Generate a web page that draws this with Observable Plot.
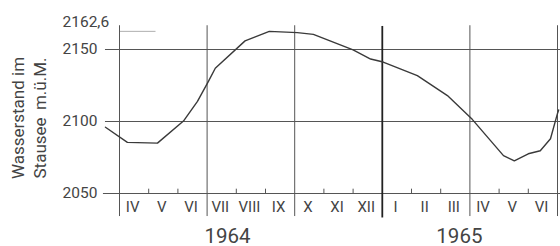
<!DOCTYPE html>
<html>
<head>
<meta charset="utf-8">
<script src="https://cdn.jsdelivr.net/npm/d3@7"></script>
<script src="https://cdn.jsdelivr.net/npm/@observablehq/plot@0.6"></script>
<style>
  html, body { margin: 0; padding: 0; background: #fff; }
</style>
</head>
<body>
<div id="chart"></div>
<script>
// Month index: 0 = start of April 1964, 9 = start of January 1965
const curveMonth = [-0.48, 0.27, 1.3, 2.19, 2.67, 3.05, 3.28, 4.3, 5.13, 6.09, 6.64, 8.0, 8.6, 9.03, 10.2, 11.23, 12.08, 13.15, 13.52, 14.0, 14.41, 14.76, 15.0, 15.04];
const curveLevel = [2096, 2085.5, 2085, 2100.3, 2114, 2128, 2137, 2156, 2162.6, 2161.7, 2160.5, 2149.7, 2143.4, 2141.3, 2131.8, 2118, 2101.5, 2076.3, 2072.7, 2077.6, 2079.7, 2088, 2105.6, 2108];

const monthLabels = ["IV","V","VI","VII","VIII","IX","X","XI","XII","I","II","III","IV","V","VI"];
const quarterLines = [0, 3, 6, 12, 15];
const yearLine = [9];
const minorTicks = [1, 2, 4, 5, 7, 8, 10, 11, 13, 14];
const yearLabels = ["1964", "1965"];
const yearLabelPos = [3.7, 11.64];
const gridLevels = [2100, 2150];
const baseLevel = [2050];
const yTickValues = [2050, 2100, 2150];
const yTickLabels = ["2050", "2100", "2150"];
const maxLevel = [2162.6];
const maxLabel = "2162,6";

const curve = curveMonth.map((m, i) => ({m, v: curveLevel[i]}));
const months = monthLabels.map((t, i) => ({t, m: i + 0.45}));
const years = yearLabels.map((t, i) => ({t, m: yearLabelPos[i]}));
const yTicks = yTickValues.map((v, i) => ({v, t: yTickLabels[i]}));

const ink = "#3a3a3a";
const gridInk = "#555";

const chart = Plot.plot({
  width: 560,
  height: 246,
  margin: 0,
  x: {domain: [0, 15], range: [119, 557], axis: null},
  y: {domain: [2050, 2150], range: [193, 49], axis: null},
  style: {fontFamily: "Roboto, 'DejaVu Sans', sans-serif", background: "white", color: "#333"},
  marks: [
    // horizontal grid lines
    Plot.ruleY(gridLevels, {y: d => d, x1: () => -0.48, x2: () => 15.3, stroke: gridInk, strokeWidth: 1}),
    Plot.ruleY(baseLevel, {y: d => d, x1: () => -0.55, x2: () => 15.3, stroke: gridInk, strokeWidth: 1}),
    // max level marker
    Plot.ruleY(maxLevel, {y: d => d, x1: () => 0, x2: () => 1.25, stroke: "#999", strokeWidth: 0.8}),
    // quarter separators
    Plot.ruleX(quarterLines, {x: d => d, y1: () => 2034, y2: () => 2166.5, stroke: gridInk, strokeWidth: 1}),
    Plot.ruleX(yearLine, {x: d => d, y1: () => 2033, y2: () => 2166, stroke: "#222", strokeWidth: 1.8}),
    // minor month ticks
    Plot.ruleX(minorTicks, {x: d => d, y1: () => 2050, y2: () => 2053, stroke: gridInk, strokeWidth: 1}),
    // water level curve
    Plot.line(curve, {x: "m", y: "v", stroke: ink, strokeWidth: 1.4, curve: "linear"}),
    // month labels
    Plot.text(months, {x: "m", text: "t", frameAnchor: "bottom", dy: -39, lineAnchor: "middle", fontSize: 15, fill: "#444"}),
    // year labels
    Plot.text(years, {x: "m", text: "t", frameAnchor: "bottom", dy: -4, lineAnchor: "bottom", fontSize: 20.5, fill: "#444"}),
    // y tick labels
    Plot.text(yTicks, {y: "v", text: "t", frameAnchor: "left", dx: 62, textAnchor: "start", lineAnchor: "middle", fontSize: 15.5, fill: "#444"}),
    Plot.text(maxLevel, {y: d => d, text: () => maxLabel, frameAnchor: "left", dx: 62, dy: -4, textAnchor: "start", lineAnchor: "bottom", fontSize: 15.5, fill: "#444"}),
    // y axis title
    Plot.text(["Wasserstand im"], {text: d => d, frameAnchor: "top-left", dx: 17.7, dy: 117.5, rotate: -90, textAnchor: "middle", lineAnchor: "middle", fontSize: 17, fill: "#444"}),
    Plot.text(["Stausee"], {text: d => d, frameAnchor: "top-left", dx: 39.7, dy: 178, rotate: -90, textAnchor: "start", lineAnchor: "middle", fontSize: 17, fill: "#444"}),
    Plot.text(["m.ü.M."], {text: d => d, frameAnchor: "top-left", dx: 39.7, dy: 57, rotate: -90, textAnchor: "end", lineAnchor: "middle", fontSize: 17, fill: "#444"})
  ]
});

document.getElementById("chart").appendChild(chart);
</script>
</body>
</html>
